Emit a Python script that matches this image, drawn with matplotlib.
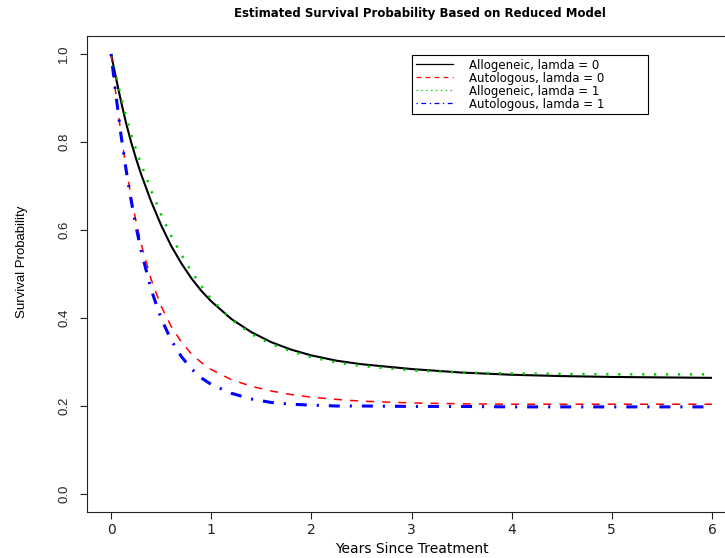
import matplotlib
matplotlib.use("Agg")
import matplotlib.pyplot as plt
from matplotlib.lines import Line2D

plt.rcParams['lines.scale_dashes'] = False

# years since treatment and estimated survival
years = [0, 0.05, 0.1, 0.15, 0.2, 0.25, 0.3, 0.4, 0.5, 0.6, 0.7, 0.8, 0.9, 1.0,
         1.2, 1.4, 1.6, 1.8, 2.0, 2.25, 2.5, 3.0, 3.5, 4.0, 4.5, 5.0, 5.5, 6.0]
allo_l0 = [1.0, 0.945, 0.892, 0.843, 0.800, 0.762, 0.727, 0.665, 0.611, 0.564, 0.525, 0.491, 0.462, 0.438,
           0.398, 0.368, 0.345, 0.328, 0.315, 0.303, 0.295, 0.284, 0.276, 0.271, 0.268, 0.266, 0.265, 0.264]
auto_l0 = [1.0, 0.905, 0.818, 0.742, 0.676, 0.619, 0.569, 0.488, 0.427, 0.381, 0.346, 0.319, 0.299, 0.283,
           0.260, 0.245, 0.234, 0.226, 0.220, 0.215, 0.211, 0.207, 0.205, 0.204, 0.204, 0.204, 0.204, 0.204]
allo_l1 = [1.0, 0.950, 0.902, 0.858, 0.818, 0.783, 0.750, 0.690, 0.635, 0.587, 0.545, 0.507, 0.473, 0.443,
           0.397, 0.364, 0.341, 0.324, 0.311, 0.299, 0.291, 0.281, 0.276, 0.274, 0.273, 0.272, 0.272, 0.272]
auto_l1 = [1.0, 0.905, 0.815, 0.737, 0.668, 0.607, 0.553, 0.465, 0.399, 0.350, 0.313, 0.285, 0.264, 0.249,
           0.229, 0.216, 0.208, 0.204, 0.202, 0.200, 0.200, 0.199, 0.199, 0.198, 0.198, 0.198, 0.198, 0.198]

labels = ['Allogeneic, lamda = 0', 'Autologous, lamda = 0',
          'Allogeneic, lamda = 1', 'Autologous, lamda = 1']
xticks = [0, 1, 2, 3, 4, 5, 6]
yticks = [0.0, 0.2, 0.4, 0.6, 0.8, 1.0]

W, H = 725, 558
fig = plt.figure(figsize=(W / 100, H / 100), dpi=100)
# plot region runs past the right edge, as in the (cropped) reference
ax = fig.add_axes([87 / W, 46.4 / H, 649 / W, 475.2 / H])

ax.plot(years, allo_l0, color='black', lw=1.5, solid_capstyle='butt')
ax.plot(years, auto_l0, color='#ff0000', lw=1.1, dashes=(5.8, 5.8))
ax.plot(years, allo_l1, color='#00cd00', lw=1.8, dashes=(1.6, 7.0))
ax.plot(years, auto_l1, color='#0000ff', lw=2.2, dashes=(1.5, 7.2, 7.9, 7.2))

ax.set_xlim(-0.24, 6.24)
ax.set_ylim(-0.04, 1.04)

for s in ax.spines.values():
    s.set_linewidth(0.8)
    s.set_color('#222222')

ax.set_xticks(xticks)
ax.set_xticklabels([str(v) for v in xticks], family='DejaVu Sans', fontsize=10)
ax.set_yticks(yticks)
ax.set_yticklabels([f'{v:.1f}' for v in yticks], family='Liberation Sans',
                   fontsize=9.5, rotation=90, va='center')
ax.tick_params(axis='x', direction='out', length=5, width=0.8, pad=3, colors='#222222')
ax.tick_params(axis='y', direction='out', length=5, width=0.8, pad=7, colors='#222222')

ax.set_xlabel('Years Since Treatment', family='DejaVu Sans', fontsize=10)
ax.xaxis.set_label_coords(0.5, -0.064)
ax.set_ylabel('Survival Probability', family='Liberation Sans', fontsize=9.5)
ax.yaxis.set_label_coords(-0.091, 0.525)

fig.text(420 / W, 1 - 13 / H, 'Estimated Survival Probability Based on Reduced Model',
         ha='center', va='center', family='DejaVu Sans', fontweight='bold', fontsize=8.5)

handles = [
    Line2D([], [], color='black', lw=0.9),
    Line2D([], [], color='#ff0000', lw=0.9, dashes=(3.5, 3.0)),
    Line2D([], [], color='#00cd00', lw=0.9, dashes=(1.0, 2.5)),
    Line2D([], [], color='#0000ff', lw=0.9, dashes=(1.0, 2.5, 3.5, 2.5)),
]
leg = fig.legend(handles, labels, loc='upper left',
                 bbox_to_anchor=(412 / W, 1 - 55 / H - 0.01, (648 - 412) / W, 0.01),
                 mode='expand', borderaxespad=0, borderpad=0.3,
                 handlelength=3.2, handletextpad=1.35, labelspacing=0.0,
                 prop={'family': 'DejaVu Sans', 'size': 8.5},
                 fancybox=False, framealpha=1, edgecolor='black')
leg.get_frame().set_linewidth(0.8)

fig.savefig('out.png', dpi=100)
